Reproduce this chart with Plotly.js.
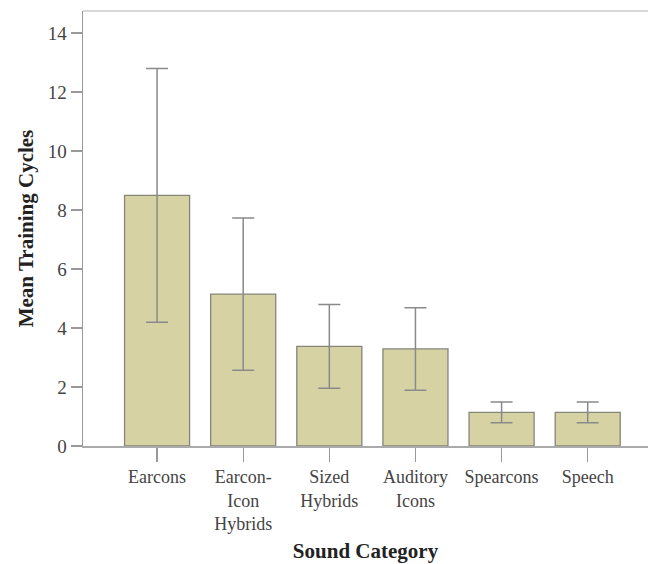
<!DOCTYPE html>
<html>
<head>
<meta charset="utf-8">
<script src="https://cdn.plot.ly/plotly-3.0.1.min.js"></script>
<style>html,body{margin:0;padding:0;background:#fff;}#chart{width:648px;height:564px;}</style>
</head>
<body>
<div id="chart"></div>
<script>
const categories = ["Earcons", "Earcon-<br>Icon<br>Hybrids", "Sized<br>Hybrids", "Auditory<br>Icons", "Spearcons", "Speech"];
const meanCycles = [8.5, 5.15, 3.38, 3.29, 1.14, 1.14];
const errorSize = [4.3, 2.58, 1.42, 1.4, 0.35, 0.35];
const yTicks = [0, 2, 4, 6, 8, 10, 12, 14];

const xIdx = categories.map((c, i) => i);

const trace = {
  type: 'bar',
  x: xIdx,
  y: meanCycles,
  width: 0.755,
  marker: {color: '#d6d2a3', line: {color: '#85857a', width: 1.3}},
  error_y: {type: 'data', array: errorSize, visible: true, color: '#8a8a8a', thickness: 1.5, width: 11},
  hoverinfo: 'none'
};

const layout = {
  width: 648, height: 564,
  margin: {l: 83, r: 0, t: 11, b: 118, pad: 0},
  paper_bgcolor: '#fff', plot_bgcolor: '#fff',
  showlegend: false,
  font: {family: 'Liberation Serif, Times New Roman, serif', color: '#444', size: 18},
  xaxis: {
    range: [-0.86, 5.70],
    tickmode: 'array', tickvals: xIdx, ticktext: categories,
    ticks: 'outside', ticklen: 14, tickcolor: '#999', tickwidth: 1.3,
    showline: true, linecolor: '#aaa', linewidth: 1.5,
    showgrid: false, zeroline: false,
    tickfont: {size: 18, color: '#444'},
    title: {text: '<b>Sound Category</b>', font: {size: 21, color: '#222'}, standoff: 10}
  },
  yaxis: {
    range: [0, 14.75],
    tickmode: 'array', tickvals: yTicks,
    ticks: 'outside', ticklen: 11, tickcolor: '#999', tickwidth: 1.3,
    showline: true, linecolor: '#999', linewidth: 1.5,
    showgrid: false, zeroline: false,
    tickfont: {size: 19, color: '#444'},
    title: {text: '<b>Mean Training Cycles</b>', font: {size: 21, color: '#222'}, standoff: 8}
  },
  shapes: [{type: 'line', xref: 'paper', yref: 'paper', x0: 0, x1: 1, y0: 1, y1: 1, line: {color: '#d8d8d8', width: 2}}]
};

Plotly.newPlot('chart', [trace], layout, {displayModeBar: false, staticPlot: true});
</script>
</body>
</html>
